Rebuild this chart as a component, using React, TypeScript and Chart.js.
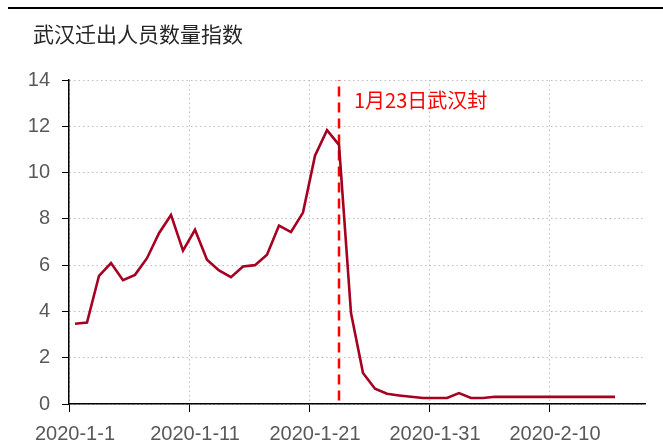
import React, { useEffect, useRef } from "react";
import { Chart, registerables } from "chart.js";

Chart.register(...registerables);

const titleText = "武汉迁出人员数量指数";
const annotationText = "1月23日武汉封";
const xTickPositions = [-0.5, 9.5, 19.5, 29.5, 39.5];
const xTickLabels = ["2020-1-1", "2020-1-11", "2020-1-21", "2020-1-31", "2020-2-10"];
const yTicks = [0, 2, 4, 6, 8, 10, 12, 14];
// daily values from 2020-1-1 to 2020-2-15
const migrationIndex = [
  3.47, 3.52, 5.54, 6.09, 5.35, 5.58, 6.3, 7.38, 8.17, 6.63,
  7.53, 6.23, 5.77, 5.48, 5.94, 6.0, 6.45, 7.71, 7.43, 8.27,
  10.73, 11.83, 11.2, 3.93, 1.34, 0.66, 0.44, 0.37, 0.31, 0.26,
  0.26, 0.26, 0.47, 0.26, 0.26, 0.31, 0.31, 0.31, 0.31, 0.31,
  0.31, 0.31, 0.31, 0.31, 0.31, 0.31,
];
const lockdownIndex = 22; // 2020-1-23
const lockdownLineRange = [0.15, 14];

export default function App() {
  const ref = useRef<HTMLCanvasElement | null>(null);

  useEffect(() => {
    if (!ref.current) return;
    const seriesPoints = migrationIndex.map((v, i) => ({ x: i, y: v }));
    const lockPoints = lockdownLineRange.map((v) => ({ x: lockdownIndex, y: v }));

    const decor = {
      id: "decor",
      afterDraw(chart: any) {
        const ctx = chart.ctx;
        ctx.save();
        ctx.strokeStyle = "#000";
        ctx.lineWidth = 2;
        ctx.beginPath();
        ctx.moveTo(8, 8);
        ctx.lineTo(663, 8);
        ctx.stroke();
        ctx.fillStyle = "#262626";
        ctx.font = '21px "Noto Sans CJK SC", sans-serif';
        ctx.textBaseline = "middle";
        ctx.textAlign = "left";
        ctx.fillText(titleText, 33, 34);
        const xs = chart.scales.x;
        const ys = chart.scales.y;
        ctx.fillStyle = "#ff0000";
        ctx.font = '20px "Noto Sans CJK SC", sans-serif';
        ctx.fillText(annotationText, xs.getPixelForValue(lockdownIndex) + 15, ys.getPixelForValue(13.1));
        ctx.restore();
      },
    };

    const chart = new Chart(ref.current, {
      type: "line",
      data: {
        datasets: [
          {
            label: titleText,
            data: seriesPoints,
            borderColor: "#a50021",
            borderWidth: 2.6,
            pointRadius: 0,
            tension: 0,
            fill: false,
          },
          {
            label: annotationText,
            data: lockPoints,
            borderColor: "#ff0000",
            borderWidth: 2.5,
            borderDash: [10, 6],
            pointRadius: 0,
            fill: false,
          },
        ],
      },
      options: {
        animation: false,
        responsive: false,
        maintainAspectRatio: false,
        layout: { padding: { left: 0, top: 80, right: 18, bottom: 0 } },
        plugins: { legend: { display: false }, tooltip: { enabled: false }, title: { display: false } },
        scales: {
          x: {
            type: "linear",
            min: -0.5,
            max: 47.5,
            afterBuildTicks: (scale: any) => {
              scale.ticks = xTickPositions.map((v) => ({ value: v }));
            },
            afterFit: (scale: any) => {
              scale.height = 44;
            },
            ticks: {
              autoSkip: false,
              maxRotation: 0,
              padding: 10,
              labelOffset: 6,
              color: "#595959",
              font: { family: '"Liberation Sans", Arial, sans-serif', size: 20 },
              callback: (v: any) => {
                const idx = xTickPositions.indexOf(Number(v));
                return idx >= 0 ? xTickLabels[idx] : "";
              },
            },
            grid: {
              color: "#bfbfbf",
              lineWidth: 1,
              tickLength: 8,
              tickColor: "#000",
            },
            border: { display: true, color: "#000", width: 1.5, dash: [1.5, 3] },
          },
          y: {
            min: 0,
            max: 14,
            afterBuildTicks: (scale: any) => {
              scale.ticks = yTicks.map((v) => ({ value: v }));
            },
            afterFit: (scale: any) => {
              scale.width = 69;
            },
            ticks: {
              padding: 12,
              color: "#595959",
              font: { family: '"Liberation Sans", Arial, sans-serif', size: 20 },
            },
            grid: {
              color: "#bfbfbf",
              lineWidth: 1,
              tickLength: 7,
              tickColor: "#000",
            },
            border: { display: true, color: "#000", width: 1.5, dash: [1.5, 3] },
          },
        },
      },
      plugins: [decor],
    });
    return () => chart.destroy();
  }, []);

  return (
    <div style={{ position: "absolute", left: 0, top: 0, width: 663, height: 448, background: "#fff" }}>
      <canvas ref={ref} width={663} height={448} style={{ width: 663, height: 448, display: "block" }} />
    </div>
  );
}
